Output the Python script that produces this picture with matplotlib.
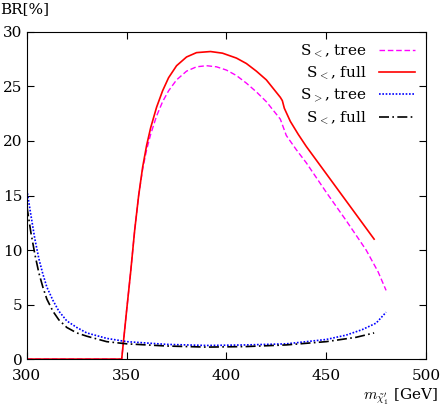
import matplotlib
matplotlib.use("Agg")
import matplotlib.pyplot as plt

plt.rcParams['mathtext.fontset'] = 'cm'
plt.rcParams['font.family'] = 'serif'
plt.rcParams['font.serif'] = ['DejaVu Serif']

# S<, full
full_lt_x = [300, 347.5, 350, 352, 354, 356, 358, 360, 362, 365, 368, 371, 375, 380, 385, 392,
             398, 405, 410, 415, 420, 427, 428, 429, 430, 432, 436, 440, 450, 460, 474]
full_lt_y = [0, 0, 4.5, 8, 11.8, 15, 17.6, 19.6, 21.2, 23.1, 24.6, 25.8, 26.9, 27.7, 28.1, 28.2,
             28.05, 27.6, 27.1, 26.4, 25.6, 24.0, 23.7, 23.0, 22.6, 21.8, 20.6, 19.5, 17, 14.5, 11]
# S<, tree
tree_lt_x = [300, 347.5, 350, 352, 354, 356, 358, 360, 362, 365, 368, 371, 375, 380, 385, 390,
             395, 400, 405, 410, 415, 420, 427, 428, 430, 435, 440, 450, 460, 470, 476, 480]
tree_lt_y = [0, 0, 4.5, 8, 11.8, 15, 17.4, 19.2, 20.6, 22.3, 23.6, 24.6, 25.6, 26.4, 26.8, 26.9,
             26.8, 26.5, 26.0, 25.3, 24.5, 23.6, 22.0, 21.5, 20.5, 19.2, 18, 15.3, 12.7, 10, 8, 6.3]
# S>, tree
tree_gt_x = [300, 302, 304, 306, 308, 310, 313, 316, 320, 325, 330, 340, 350, 370, 390, 410, 430,
             450, 460, 468, 475, 480]
tree_gt_y = [15.5, 13.2, 11.0, 9.2, 7.8, 6.6, 5.4, 4.4, 3.5, 2.9, 2.4, 1.9, 1.6, 1.35, 1.25, 1.3, 1.4,
             1.8, 2.2, 2.7, 3.3, 4.3]
# second "S<, full" (dash-dot)
full2_x = [300, 302, 304, 306, 308, 310, 313, 316, 320, 325, 330, 340, 350, 370, 390, 410, 430,
           450, 465, 474]
full2_y = [14, 11.6, 9.6, 7.9, 6.6, 5.5, 4.4, 3.6, 2.9, 2.4, 2.1, 1.6, 1.4, 1.2, 1.1, 1.15, 1.3,
           1.6, 2.0, 2.4]

fig = plt.figure(figsize=(4.41, 4.09), dpi=100)
ax = fig.add_axes([0.061, 0.122, 0.905, 0.8])

ax.plot(tree_lt_x, tree_lt_y, color='#ff00ff', linestyle=(0, (4, 2)), linewidth=1.0, label=r'S$_<$, tree')
ax.plot(full_lt_x, full_lt_y, color='#ff0000', linestyle='-', linewidth=1.2, label=r'S$_<$, full')
ax.plot(tree_gt_x, tree_gt_y, color='#0000ff', linestyle=(0, (1, 1)), linewidth=1.2, label=r'S$_>$, tree')
ax.plot(full2_x, full2_y, color='black', linestyle=(0, (6, 2, 1, 2)), linewidth=1.2, label=r'S$_<$, full')

ax.set_xlim(300, 500)
ax.set_ylim(0, 30)
ax.set_xticks([300, 350, 400, 450, 500])
ax.set_yticks([0, 5, 10, 15, 20, 25, 30])
ax.tick_params(direction='in', top=True, right=True, labelsize=11, length=5)
ax.tick_params(axis='x', pad=7)
ax.tick_params(axis='y', pad=3)

fig.text(0.0, 0.995, 'BR[%]', ha='left', va='top', fontsize=11)
fig.text(0.995, 0.005, r'$m_{\tilde{\chi}_1^{\prime}}$ [GeV]', ha='right', va='bottom', fontsize=11)

ax.legend(loc='upper right', frameon=False, markerfirst=False, fontsize=11,
          handlelength=2.4, labelspacing=0.3, borderaxespad=0.3)

fig.savefig('out.png', dpi=100)
